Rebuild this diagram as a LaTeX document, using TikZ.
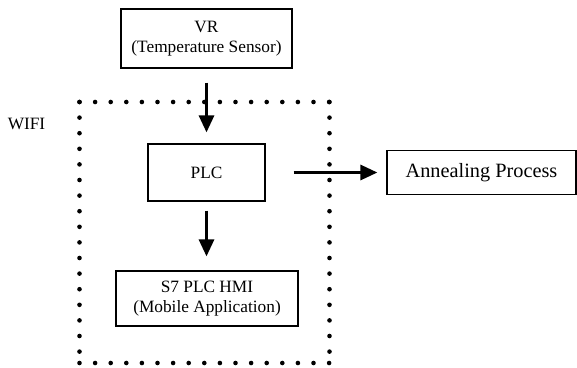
\documentclass[tikz,border=0pt]{standalone}
\usepackage{fontspec}
\setmainfont{Liberation Serif}
\usepackage{tikz}
\usetikzlibrary{positioning, arrows.meta, calc}

\begin{document}
\begin{tikzpicture}[
    x=1pt, y=-1pt,
    >={Triangle[length=17pt, width=15pt]},
    blockbox/.style={rectangle, draw, line width=1.2pt, align=center, inner sep=0pt, font=\fontsize{17.3}{19.5}\selectfont},
    bigbox/.style={blockbox, font=\fontsize{20.3}{23}\selectfont},
    flowarrow/.style={->, line width=3pt},
    dotframe/.style={line width=4.6pt, line cap=round, dash pattern=on 0pt off 15.6pt},
    sidelabel/.style={font=\fontsize{17.3}{19.5}\selectfont}
]
\useasboundingbox (0,0) rectangle (577,367);

% Blocks
\node[blockbox, minimum width=171pt, minimum height=59pt] (sensor) at (206.5, 38.5) {VR\\(Temperature Sensor)};
\node[blockbox, minimum width=117pt, minimum height=57pt] (plc) at (206.5, 172.5) {PLC};
\node[blockbox, minimum width=182pt, minimum height=55pt] (hmi) at (207, 298.5) {S7 PLC HMI\\(Mobile Application)};
\node[bigbox, minimum width=189pt, minimum height=44pt] (anneal) at (481.5, 172.5) {Annealing Process};

% WIFI label
\node[sidelabel] (wifi) at (26.5, 124) {WIFI};

% Dotted wifi frame
\coordinate (tl) at (79.5, 102);
\coordinate (tr) at (329.5, 102);
\coordinate (br) at (329.5, 363);
\coordinate (bl) at (79.5, 363);
\draw[dotframe] (tl) -- (tr);
\draw[dotframe] (tr) -- (br);
\draw[dotframe] (bl) -- (br);
\draw[dotframe] (tl) -- (bl);

% Arrows
\draw[flowarrow, shorten <=14pt, shorten >=11pt] (sensor) -- (plc);
\draw[flowarrow, shorten <=9pt, shorten >=14pt] (plc) -- (hmi.north -| plc);
\draw[flowarrow, shorten <=28pt, shorten >=9pt] (plc.east) -- (plc.east -| anneal.west);

\end{tikzpicture}
\end{document}
